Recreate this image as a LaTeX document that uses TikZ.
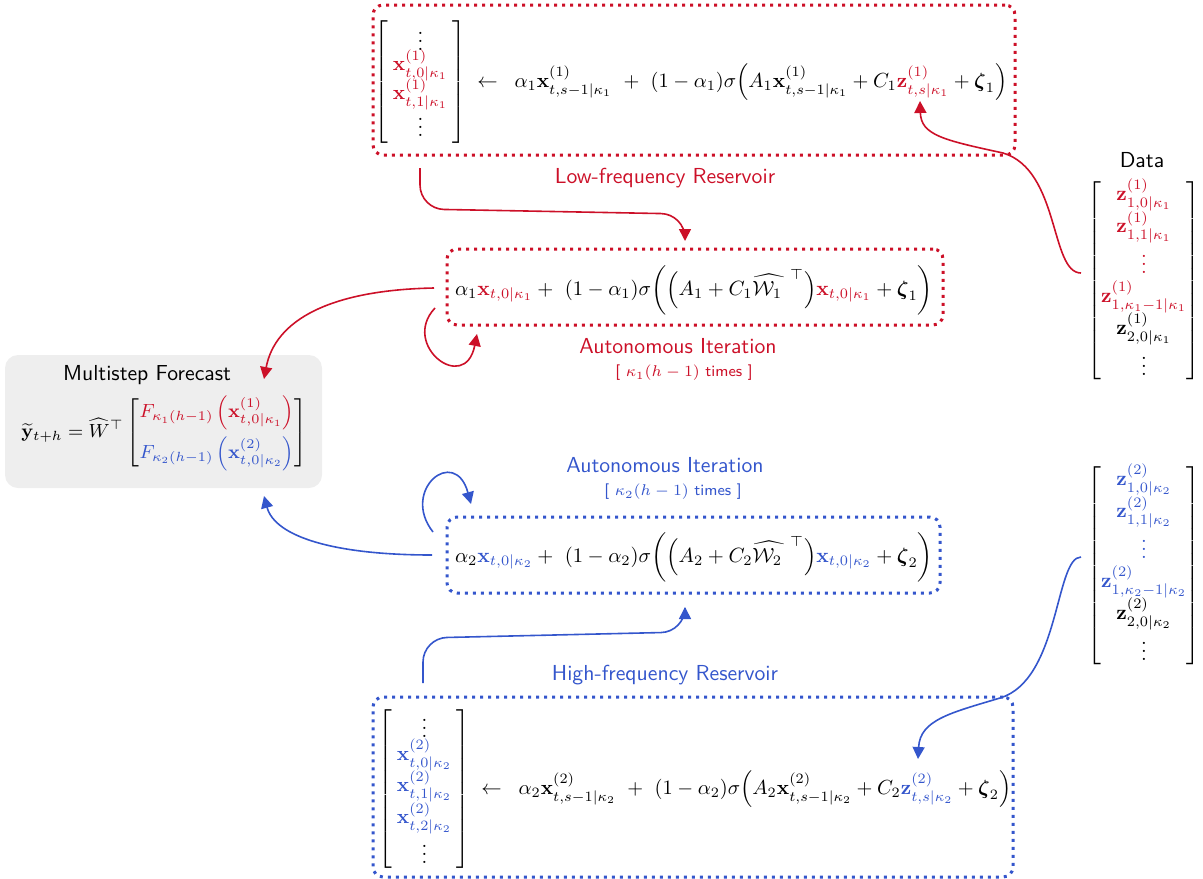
\RequirePackage{fix-cm}
\documentclass[tikz,border=0pt]{standalone}
\usepackage{amsmath,amssymb}
\usetikzlibrary{arrows.meta}
\definecolor{myred}{RGB}{204,16,40}
\definecolor{myblue}{RGB}{52,86,204}
\definecolor{boxgray}{RGB}{238,238,238}
\tikzset{
  rdots/.style={draw=myred,line width=1.5pt,dash pattern=on 1.5pt off 2.5pt,rounded corners=5pt},
  bdots/.style={draw=myblue,line width=1.5pt,dash pattern=on 1.5pt off 2.5pt,rounded corners=5pt},
  conn/.style={line width=0.8pt,-{Triangle[length=6pt,width=6pt]}},
  lab/.style={font=\sffamily\fontsize{10.85}{13}\selectfont},
  small lab/.style={font=\sffamily\fontsize{7.8}{10}\selectfont},
  eq/.style={inner sep=0pt,font=\fontsize{10.3}{12.4}\selectfont},
  bigeq/.style={inner sep=0pt,font=\fontsize{10.2}{12.2}\selectfont},
  mseqstyle/.style={inner sep=0pt,font=\fontsize{9.5}{11.4}\selectfont},
}
\begin{document}
\begin{tikzpicture}[x=0.5pt,y=0.5pt]
\useasboundingbox (0,0) rectangle (1203,-878);

% boxes
\node[rdots,minimum width=321pt,minimum height=75pt] (lowbox) at (694,-80) {};
\node[rdots,minimum width=248pt,minimum height=38pt] (auto1) at (695,-287) {};
\node[bdots,minimum width=246.5pt,minimum height=38pt] (auto2) at (693.5,-555) {};
\node[bdots,minimum width=320pt,minimum height=90pt] (highbox) at (693,-787) {};
\node[fill=boxgray,rounded corners=6.5pt,minimum width=158.5pt,minimum height=66.5pt] (msbox) at (163.5,-421.5) {};

% equations
\node[bigeq] (loweq) at (691,-82) {$\left[\mkern4mu\begin{matrix}\vdots\\[-4pt] {\color{myred}\mathbf{x}^{(1)}_{t,0|\kappa_1}}\\[-1.5pt] {\color{myred}\mathbf{x}^{(1)}_{t,1|\kappa_1}}\\[-2pt] \vdots\end{matrix}\mkern4mu\right]\;\leftarrow\;\;\alpha_1\mathbf{x}^{(1)}_{t,s-1|\kappa_1}\ +\ (1-\alpha_1)\sigma\Big(A_1\mathbf{x}^{(1)}_{t,s-1|\kappa_1}+C_1{\color{myred}\mathbf{z}^{(1)}_{t,s|\kappa_1}}+\boldsymbol{\zeta}_1\Big)$};

\node[eq] (a1eq) at (694,-290) {$\alpha_1{\color{myred}\mathbf{x}_{t,0|\kappa_1}}+\ (1-\alpha_1)\sigma\bigg(\Big(A_1+C_1\widehat{\mathcal{W}_1\,}^{\;\top}\Big){\color{myred}\mathbf{x}_{t,0|\kappa_1}}+\boldsymbol{\zeta}_1\bigg)$};

\node[eq] (a2eq) at (694,-557) {$\alpha_2{\color{myblue}\mathbf{x}_{t,0|\kappa_2}}+\ (1-\alpha_2)\sigma\bigg(\Big(A_2+C_2\widehat{\mathcal{W}_2\,}^{\;\top}\Big){\color{myblue}\mathbf{x}_{t,0|\kappa_2}}+\boldsymbol{\zeta}_2\bigg)$};

\node[bigeq] (higheq) at (695,-789) {$\left[\mkern4mu\begin{matrix}\vdots\\[-3pt] {\color{myblue}\mathbf{x}^{(2)}_{t,0|\kappa_2}}\\[0pt] {\color{myblue}\mathbf{x}^{(2)}_{t,1|\kappa_2}}\\[0pt] {\color{myblue}\mathbf{x}^{(2)}_{t,2|\kappa_2}}\\[-0.5pt] \vdots\end{matrix}\mkern4mu\right]\;\leftarrow\;\;\alpha_2\mathbf{x}^{(2)}_{t,s-1|\kappa_2}\ +\ (1-\alpha_2)\sigma\Big(A_2\mathbf{x}^{(2)}_{t,s-1|\kappa_2}+C_2{\color{myblue}\mathbf{z}^{(2)}_{t,s|\kappa_2}}+\boldsymbol{\zeta}_2\Big)$};

\node[lab] (mstitle) at (147,-375) {Multistep Forecast};
\node[mseqstyle] (mseq) at (164,-433) {$\widetilde{\mathbf{y}}_{t+h}=\widehat{W}^{\top}\begin{bmatrix}{\color{myred}F_{\kappa_1(h-1)}\left(\mathbf{x}^{(1)}_{t,0|\kappa_1}\right)}\\[6pt] {\color{myblue}F_{\kappa_2(h-1)}\left(\mathbf{x}^{(2)}_{t,0|\kappa_2}\right)}\end{bmatrix}$};

% data
\node[lab] (datatitle) at (1142,-160) {Data};
\node[eq] (d1) at (1144,-281) {$\begin{bmatrix}{\color{myred}\mathbf{z}^{(1)}_{1,0|\kappa_1}}\\ {\color{myred}\mathbf{z}^{(1)}_{1,1|\kappa_1}}\\ {\color{myred}\vdots}\\ {\color{myred}\mathbf{z}^{(1)}_{1,\kappa_1-1|\kappa_1}}\\ \mathbf{z}^{(1)}_{2,0|\kappa_1}\\ \vdots\end{bmatrix}$};
\node[eq] (d2) at (1144,-566) {$\begin{bmatrix}{\color{myblue}\mathbf{z}^{(2)}_{1,0|\kappa_2}}\\ {\color{myblue}\mathbf{z}^{(2)}_{1,1|\kappa_2}}\\ {\color{myblue}\vdots}\\ {\color{myblue}\mathbf{z}^{(2)}_{1,\kappa_2-1|\kappa_2}}\\ \mathbf{z}^{(2)}_{2,0|\kappa_2}\\ \vdots\end{bmatrix}$};

% labels
\node[lab,text=myred] (lowlab) at (665,-178) {Low-frequency Reservoir};
\node[lab,text=myred] (a1lab) at (678,-346) {Autonomous Iteration};
\node[small lab,text=myred] (a1times) at (684,-373) {[ $\kappa_1(h-1)$ times ]};
\node[lab,text=myblue] (a2lab) at (665,-465) {Autonomous Iteration};
\node[small lab,text=myblue] (a2times) at (673,-492) {[ $\kappa_2(h-1)$ times ]};
\node[lab,text=myblue] (highlab) at (665,-675) {High-frequency Reservoir};

% connector end points
\coordinate (lowout) at (420,-168);
\coordinate (a1in) at (685,-241);
\coordinate (a1out) at (434,-288);
\coordinate (msin1) at (264,-379);
\coordinate (l1s) at (435,-308);
\coordinate (l1e) at (477,-334);
\coordinate (a2out) at (432,-555);
\coordinate (msin2) at (264,-496);
\coordinate (l2s) at (433,-532);
\coordinate (l2e) at (471,-504);
\coordinate (highout) at (423,-683);
\coordinate (a2in) at (685,-607);
\coordinate (d1s) at (1081,-273);
\coordinate (z1in) at (920,-101);
\coordinate (d2s) at (1081,-557);
\coordinate (z2in) at (918,-759);

% connectors
\draw[conn,myred,rounded corners=12pt] (lowout) -- (420,-209) -- (685,-214) -- (a1in);
\draw[conn,myred] (a1out) .. controls (330,-290) and (275,-320) .. (msin1);
\draw[conn,myred] (l1s) .. controls (400,-345) and (465,-395) .. (l1e);
\draw[conn,myred] (d1s) .. controls (1050,-273) and (1060,-170) .. (1003,-153) .. controls (943,-140) and (921,-135) .. (z1in);

\draw[conn,myblue,rounded corners=12pt] (highout) -- (423,-638) -- (685,-632) -- (a2in);
\draw[conn,myblue] (a2out) .. controls (335,-555) and (275,-537) .. (msin2);
\draw[conn,myblue] (l2s) .. controls (400,-490) and (455,-445) .. (l2e);
\draw[conn,myblue] (d2s) .. controls (1055,-557) and (1060,-680) .. (1000,-698) .. controls (950,-713) and (920,-720) .. (z2in);
\end{tikzpicture}
\end{document}
